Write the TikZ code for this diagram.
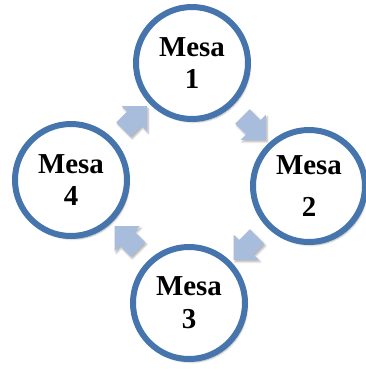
\documentclass[tikz,border=0pt]{standalone}
\usepackage{fontspec}
\setmainfont{Liberation Serif}
\usetikzlibrary{shapes.arrows,shadows.blur,calc}
\definecolor{ringblue}{RGB}{70,116,172}
\definecolor{arrowblue}{RGB}{168,188,220}
\begin{document}
\begin{tikzpicture}[x=1bp, y=-1bp,
		mesa/.style={circle, draw=ringblue, line width=6bp, fill=white, minimum size=112bp, inner sep=0pt, align=center,
			font=\fontsize{29}{33}\selectfont\bfseries, blur shadow={shadow xshift=2bp, shadow yshift=-3bp, shadow blur steps=6, shadow opacity=35}},
		flecha/.style={single arrow, fill=arrowblue, draw=none, inner sep=10bp, minimum height=33bp, single arrow head extend=7.5bp,
			single arrow head indent=0pt, blur shadow={shadow xshift=1.5bp, shadow yshift=-2bp, shadow blur steps=4, shadow opacity=30}}]
			\useasboundingbox (0,0) rectangle (366,370);
			
			\node[mesa] (m1) at (192,63) {Mesa\\1};
			\node[mesa] (m2) at (309,186) {Mesa\\[10bp]2};
			\node[mesa] (m3) at (189,303) {Mesa\\3};
			\node[mesa] (m4) at (71,180) {Mesa\\4};
			
			\node[flecha, rotate=-45] (a12) at ($(m1)!0.5!(m2)$) {};
			\node[flecha, rotate=-135] (a23) at ($(m2)!0.5!(m3)$) {};
			\node[flecha, rotate=135] (a34) at ($(m3)!0.5!(m4)$) {};
			\node[flecha, rotate=45] (a41) at ($(m4)!0.5!(m1)$) {};
			
	\end{tikzpicture}
\end{document}
